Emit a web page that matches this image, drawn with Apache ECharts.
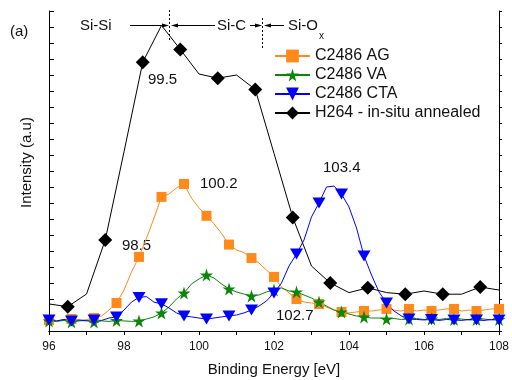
<!DOCTYPE html>
<html>
<head>
<meta charset="utf-8">
<script src="https://cdn.jsdelivr.net/npm/echarts@6/dist/echarts.min.js"></script>
<style>
  html, body { margin: 0; padding: 0; background: #fff; }
  #chart { width: 512px; height: 380px; }
</style>
</head>
<body>
<div id="chart"></div>
<script>
// binding energy grid of the measured spectra (eV)
var energy = [96.0, 96.2, 96.4, 96.6, 96.8, 97.0, 97.2, 97.4, 97.6, 97.8,
  98.0, 98.2, 98.4, 98.6, 98.8, 99.0, 99.2, 99.4, 99.6, 99.8,
  100.0, 100.2, 100.4, 100.6, 100.8, 101.0, 101.2, 101.4, 101.6, 101.8,
  102.0, 102.2, 102.4, 102.6, 102.8, 103.0, 103.2, 103.4, 103.6, 103.8,
  104.0, 104.2, 104.4, 104.6, 104.8, 105.0, 105.2, 105.4, 105.6, 105.8,
  106.0, 106.2, 106.4, 106.6, 106.8, 107.0, 107.2, 107.4, 107.6, 107.8, 108.0];

var ag = [0.69, 0.62, 0.72, 0.75, 0.66, 0.71, 0.81, 0.94, 1.31, 1.75,
  2.56, 3.69, 4.63, 5.80, 7.06, 8.38, 8.56, 8.94, 9.19, 8.30,
  7.70, 7.20, 6.70, 6.10, 5.40, 5.06, 4.90, 4.56, 4.25, 3.80,
  3.38, 2.75, 2.38, 2.00, 1.81, 1.75, 1.69, 1.50, 1.31, 1.19,
  1.13, 1.19, 1.25, 1.25, 1.31, 1.38, 1.31, 1.25, 1.38, 1.25,
  1.31, 1.25, 1.31, 1.38, 1.38, 1.25, 1.31, 1.25, 1.31, 1.38, 1.38];

var va = [0.63, 0.60, 0.66, 0.56, 0.63, 0.66, 0.56, 0.63, 0.60, 0.66,
  0.63, 0.60, 0.63, 0.75, 0.88, 1.13, 1.50, 2.00, 2.38, 2.94,
  3.25, 3.50, 3.31, 2.94, 2.63, 2.44, 2.31, 2.19, 2.25, 2.44,
  2.56, 2.69, 2.50, 2.44, 2.25, 2.06, 1.81, 1.56, 1.31, 1.19,
  1.06, 0.94, 0.88, 0.81, 0.81, 0.75, 0.78, 0.72, 0.75, 0.78,
  0.72, 0.75, 0.72, 0.78, 0.72, 0.75, 0.69, 0.72, 0.75, 0.69, 0.72];

var cta = [0.69, 0.63, 0.72, 0.63, 0.69, 0.63, 0.69, 0.66, 0.81, 0.88,
  1.31, 1.81, 2.10, 2.15, 1.80, 1.70, 1.44, 1.13, 0.94, 0.88,
  0.81, 0.75, 0.81, 0.88, 0.94, 1.00, 1.13, 1.31, 1.56, 1.88,
  2.38, 3.00, 4.06, 4.81, 5.69, 7.13, 8.00, 9.00, 9.06, 8.56,
  7.75, 6.44, 4.69, 3.50, 2.44, 1.75, 1.25, 0.94, 0.75, 0.72,
  0.69, 0.72, 0.66, 0.72, 0.69, 0.66, 0.72, 0.69, 0.66, 0.72, 0.69];

// in-situ annealed reference, coarser step
var h264Energy = [96.0, 96.5, 97.0, 97.5, 98.0, 98.5, 99.0, 99.5, 100.0, 100.5,
  101.0, 101.5, 102.0, 102.5, 103.0, 103.5, 104.0, 104.5, 105.0, 105.5,
  106.0, 106.5, 107.0, 107.5, 108.0];
var h264 = [1.69, 1.52, 2.31, 5.69, 11.2, 16.8, 19.1, 17.6, 16.06, 15.8,
  16.0, 15.1, 11.1, 7.1, 4.06, 3.0, 2.4, 2.7, 2.4, 2.3,
  2.5, 2.3, 2.3, 2.75, 2.56];

var xTicks = [96, 98, 100, 102, 104, 106, 108];

var FONT = 'Liberation Sans, Arial, sans-serif';
var STAR = 'path://M50,0 L61,35 L98,35 L68,57 L79,91 L50,70 L21,91 L32,57 L2,35 L39,35 Z';

function pairs(xs, ys) {
  return xs.map(function (x, i) { return [x, ys[i]]; });
}

function every3(size) {
  return function (val, params) {
    return params.dataIndex % 3 === 0 ? size : 0;
  };
}

var chart = echarts.init(document.getElementById('chart'));

var option = {
  animation: false,
  backgroundColor: '#fff',
  textStyle: { fontFamily: FONT },
  grid: { left: 49, right: 13, top: 11, bottom: 49, outerBoundsMode: 'none', containLabel: false },
  legend: {
    orient: 'vertical',
    left: 274,
    top: 48,
    padding: 0,
    itemWidth: 35,
    itemHeight: 16,
    itemGap: 3,
    textStyle: { fontSize: 16, color: '#111', lineHeight: 16, fontFamily: FONT },
    data: ['C2486 AG', 'C2486 VA', 'C2486 CTA', 'H264 - in-situ annealed']
  },
  xAxis: [{
    type: 'value',
    min: 96, max: 108, interval: 1,
    name: 'Binding Energy [eV]',
    nameLocation: 'middle',
    nameGap: 31,
    nameTextStyle: { fontSize: 15, color: '#111' },
    axisLine: { lineStyle: { color: '#000', width: 1 } },
    axisTick: { inside: false, length: 4, lineStyle: { color: '#000' } },
    axisLabel: {
      fontSize: 12, color: '#111', margin: 10,
      formatter: function (v) { return xTicks.indexOf(v) >= 0 ? String(v) : ''; }
    },
    splitLine: { show: false }
  }, {
    type: 'value',
    position: 'top',
    min: 96, max: 108, interval: 1,
    axisLine: { lineStyle: { color: '#000', width: 1 } },
    axisTick: { inside: true, length: 3, lineStyle: { color: '#000' } },
    axisLabel: { show: false },
    splitLine: { show: false }
  }],
  yAxis: [{
    type: 'value',
    min: 0, max: 20, interval: 1,
    axisLine: { show: true, lineStyle: { color: '#000', width: 1 } },
    axisTick: { show: true, inside: true, length: 5, lineStyle: { color: '#000' } },
    axisLabel: { show: false },
    splitLine: { show: false }
  }, {
    type: 'value',
    position: 'right',
    min: 0, max: 20, interval: 1,
    axisLine: { show: true, lineStyle: { color: '#000', width: 1 } },
    axisTick: { show: true, inside: false, length: 3, lineStyle: { color: '#000' } },
    axisLabel: { show: false },
    splitLine: { show: false }
  }],
  series: [{
    name: 'C2486 AG',
    type: 'line',
    data: pairs(energy, ag),
    showAllSymbol: true,
    symbol: 'rect',
    symbolSize: every3(10),
    lineStyle: { color: '#ff8a1a', width: 1 },
    itemStyle: { color: '#ff8a1a' }
  }, {
    name: 'C2486 VA',
    type: 'line',
    data: pairs(energy, va),
    showAllSymbol: true,
    symbol: STAR,
    symbolSize: every3(13),
    lineStyle: { color: '#0a870a', width: 1 },
    itemStyle: { color: '#0a870a' }
  }, {
    name: 'C2486 CTA',
    type: 'line',
    data: pairs(energy, cta),
    showAllSymbol: true,
    symbol: 'triangle',
    symbolRotate: 180,
    symbolSize: every3([13, 11]),
    lineStyle: { color: '#0000ff', width: 1 },
    itemStyle: { color: '#0000ff' }
  }, {
    name: 'H264 - in-situ annealed',
    type: 'line',
    data: pairs(h264Energy, h264),
    showAllSymbol: true,
    symbol: 'diamond',
    symbolSize: function (val, params) { return params.dataIndex % 2 === 1 ? 14 : 0; },
    lineStyle: { color: '#000', width: 1 },
    itemStyle: { color: '#000' }
  }],
  graphic: [
    { type: 'text', left: 10, top: 24, style: { text: '(a)', font: '15px ' + FONT, fill: '#111' } },
    { type: 'text', rotation: Math.PI / 2, x: 19, y: 208,
      style: { text: 'Intensity (a.u)', font: '15px ' + FONT, fill: '#111' } },
    // bond region markers
    { type: 'text', left: 80, top: 18, style: { text: 'Si-Si', font: '15px ' + FONT, fill: '#111' } },
    { type: 'line', shape: { x1: 130, y1: 25.5, x2: 163, y2: 25.5 }, style: { stroke: '#000', lineWidth: 1 } },
    { type: 'polygon', shape: { points: [[162, 23.5], [169, 25.5], [162, 27.5]] }, style: { fill: '#000' } },
    { type: 'line', shape: { x1: 169.5, y1: 10, x2: 169.5, y2: 42 }, style: { stroke: '#000', lineWidth: 1, lineDash: [2, 2] } },
    { type: 'polygon', shape: { points: [[171, 25.5], [178, 23.5], [178, 27.5]] }, style: { fill: '#000' } },
    { type: 'line', shape: { x1: 177, y1: 25.5, x2: 215, y2: 25.5 }, style: { stroke: '#000', lineWidth: 1 } },
    { type: 'text', left: 217, top: 18, style: { text: 'Si-C', font: '15px ' + FONT, fill: '#111' } },
    { type: 'line', shape: { x1: 250, y1: 25.5, x2: 256, y2: 25.5 }, style: { stroke: '#000', lineWidth: 1 } },
    { type: 'polygon', shape: { points: [[255, 23.5], [262, 25.5], [255, 27.5]] }, style: { fill: '#000' } },
    { type: 'line', shape: { x1: 262.5, y1: 18, x2: 262.5, y2: 50 }, style: { stroke: '#000', lineWidth: 1, lineDash: [2, 2] } },
    { type: 'polygon', shape: { points: [[264, 25.5], [271, 23.5], [271, 27.5]] }, style: { fill: '#000' } },
    { type: 'line', shape: { x1: 270, y1: 25.5, x2: 284, y2: 25.5 }, style: { stroke: '#000', lineWidth: 1 } },
    { type: 'text', left: 288, top: 18, style: { text: 'Si-O', font: '15px ' + FONT, fill: '#111' } },
    { type: 'text', left: 319, top: 31, style: { text: 'x', font: '10px ' + FONT, fill: '#111' } },
    // peak positions
    { type: 'text', left: 148, top: 72, style: { text: '99.5', font: '15px ' + FONT, fill: '#111' } },
    { type: 'text', left: 200, top: 176, style: { text: '100.2', font: '15px ' + FONT, fill: '#111' } },
    { type: 'text', left: 122, top: 238, style: { text: '98.5', font: '15px ' + FONT, fill: '#111' } },
    { type: 'text', left: 323, top: 160, style: { text: '103.4', font: '15px ' + FONT, fill: '#111' } },
    { type: 'text', left: 276, top: 308, style: { text: '102.7', font: '15px ' + FONT, fill: '#111' } }
  ]
};

chart.setOption(option);
</script>
</body>
</html>
